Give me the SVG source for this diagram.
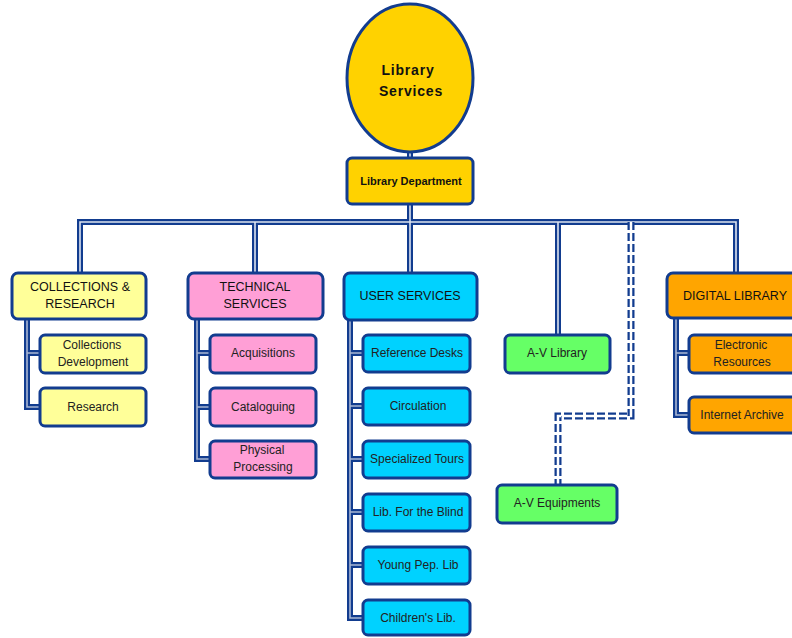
<svg xmlns="http://www.w3.org/2000/svg" width="792" height="638" viewBox="0 0 792 638">
<style>
.pipe{fill:none;stroke:#123c8f;stroke-width:6;stroke-linejoin:miter}
.core{fill:none;stroke:#dde3ef;stroke-width:1.6}
.core2{fill:none;stroke:#a9b6d3;stroke-width:1.6}
.dpipe{fill:none;stroke:#123c8f;stroke-width:7;stroke-dasharray:8 3}
.dcore{fill:none;stroke:#ffffff;stroke-width:2.5;stroke-dasharray:8 3}
.box{stroke:#123c8f;stroke-width:3}
.y{fill:#ffff99}.p{fill:#ff9fd6}.c{fill:#00d2ff}.g{fill:#66ff66}.o{fill:#ffa500}.gold{fill:#ffd200}
text{font-family:"Liberation Sans",Arial,sans-serif;fill:#111;text-anchor:middle;dominant-baseline:central}
.h{font-size:12.5px}
.s{font-size:12px;fill:#222}
</style>
<g id="connectors">
<path class="pipe" d="M410 150V158M410 204V222M80 273V222H736V273M255 222V273M410 222V273M558 222V335"/>
<path class="core" d="M410 150V158M410 204V222M80 273V222H736V273M255 222V273M410 222V273M558 222V335"/>
<path class="dpipe" d="M631 222V416H558V485"/>
<path class="dcore" d="M631 222V416H558V485"/>
<path class="pipe" d="M27 319V407H40M27 353H40M197 319V459H210M197 353H210M197 407H210M350 320V618H363M350 353H363M350 406H363M350 459H363M350 512H363M350 565H363M676 318V415H689M676 353H689"/>
<path class="core2" d="M27 319V407H40M27 353H40M197 319V459H210M197 353H210M197 407H210M350 320V618H363M350 353H363M350 406H363M350 459H363M350 512H363M350 565H363M676 318V415H689M676 353H689"/>
</g>
<g id="library-services"><ellipse class="box gold" cx="410" cy="78" rx="63" ry="74"/><text x="408" y="70" style="font-size:14px;font-weight:bold;letter-spacing:0.8px">Library</text><text x="411" y="91" style="font-size:14px;font-weight:bold;letter-spacing:0.8px">Services</text></g>
<g id="library-department"><rect class="box gold" x="347" y="158" width="126" height="46" rx="5"/><text x="411" y="181" style="font-size:11px;font-weight:bold">Library Department</text></g>
<g id="collections-research"><rect class="box y" x="12" y="273" width="134" height="46" rx="6"/><text class="h" x="80" y="287">COLLECTIONS &amp;</text><text class="h" x="80" y="304">RESEARCH</text></g>
<g id="collections-development"><rect class="box y" x="40" y="335" width="106" height="38" rx="5"/><text class="s" x="92" y="345">Collections</text><text class="s" x="93" y="362">Development</text></g>
<g id="research"><rect class="box y" x="40" y="388" width="106" height="38" rx="5"/><text class="s" x="93" y="407">Research</text></g>
<g id="technical-services"><rect class="box p" x="188" y="273" width="135" height="46" rx="6"/><text class="h" x="255" y="287">TECHNICAL</text><text class="h" x="255" y="304">SERVICES</text></g>
<g id="acquisitions"><rect class="box p" x="210" y="335" width="106" height="38" rx="5"/><text class="s" x="263" y="353">Acquisitions</text></g>
<g id="cataloguing"><rect class="box p" x="210" y="388" width="106" height="38" rx="5"/><text class="s" x="263" y="407">Cataloguing</text></g>
<g id="physical-processing"><rect class="box p" x="210" y="441" width="106" height="37" rx="5"/><text class="s" x="262" y="450">Physical</text><text class="s" x="263" y="467">Processing</text></g>
<g id="user-services"><rect class="box c" x="344" y="273" width="133" height="47" rx="6"/><text class="h" x="410" y="296">USER SERVICES</text></g>
<g id="reference-desks"><rect class="box c" x="363" y="335" width="107" height="37" rx="5"/><text class="s" x="417" y="353">Reference Desks</text></g>
<g id="circulation"><rect class="box c" x="363" y="388" width="107" height="37" rx="5"/><text class="s" x="418" y="406">Circulation</text></g>
<g id="specialized-tours"><rect class="box c" x="363" y="441" width="107" height="37" rx="5"/><text class="s" x="417" y="459">Specialized Tours</text></g>
<g id="lib-blind"><rect class="box c" x="363" y="494" width="107" height="37" rx="5"/><text class="s" x="418" y="512">Lib. For the Blind</text></g>
<g id="young-pep-lib"><rect class="box c" x="363" y="547" width="107" height="37" rx="5"/><text class="s" x="418" y="565">Young Pep. Lib</text></g>
<g id="childrens-lib"><rect class="box c" x="363" y="600" width="107" height="35" rx="5"/><text class="s" x="418" y="618">Children's Lib.</text></g>
<g id="av-library"><rect class="box g" x="505" y="335" width="105" height="38" rx="5"/><text class="s" x="557" y="353">A-V Library</text></g>
<g id="av-equipments"><rect class="box g" x="497" y="485" width="120" height="38" rx="5"/><text class="s" x="557" y="503">A-V Equipments</text></g>
<g id="digital-library"><rect class="box o" x="667" y="273" width="140" height="45" rx="6"/><text class="h" x="735" y="296">DIGITAL LIBRARY</text></g>
<g id="electronic-resources"><rect class="box o" x="689" y="335" width="120" height="38" rx="5"/><text class="s" x="741" y="345">Electronic</text><text class="s" x="742" y="362">Resources</text></g>
<g id="internet-archive"><rect class="box o" x="689" y="397" width="120" height="36" rx="5"/><text class="s" x="742" y="415">Internet Archive</text></g>
</svg>
